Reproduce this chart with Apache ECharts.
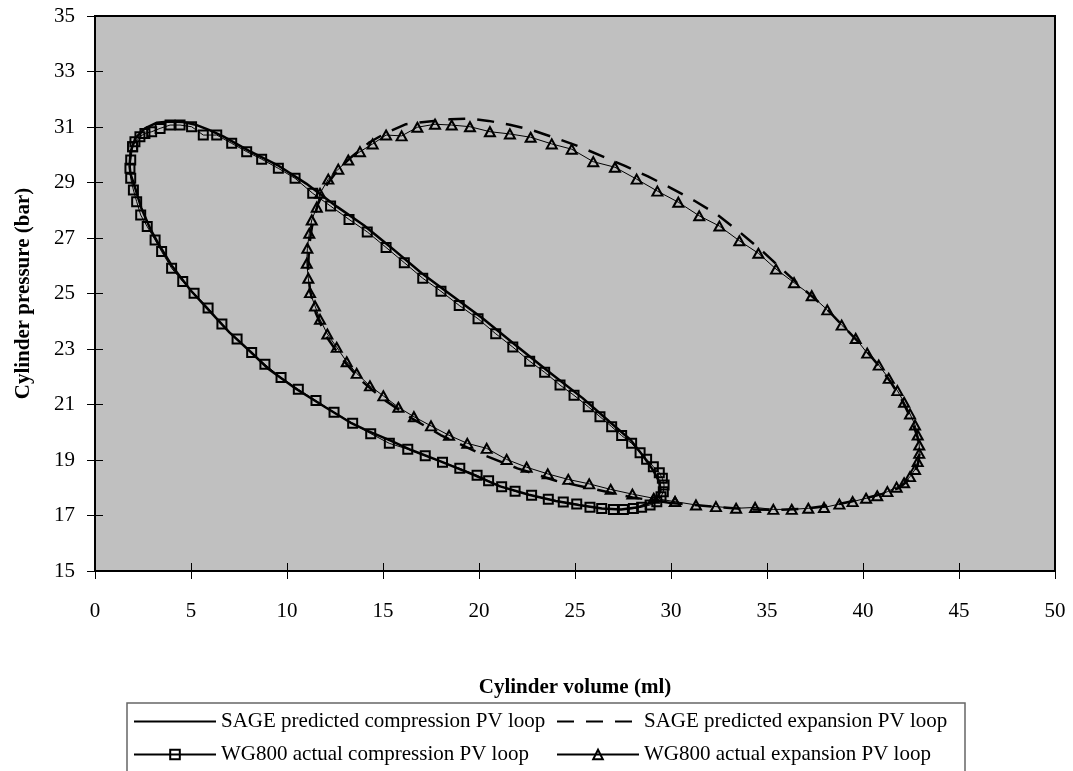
<!DOCTYPE html>
<html>
<head>
<meta charset="utf-8">
<title>PV loops</title>
<script src="https://cdn.jsdelivr.net/npm/echarts@6/dist/echarts.min.js"></script>
<style>
  html, body { margin: 0; padding: 0; background: #fff; }
  #chart { width: 1073px; height: 771px; }
</style>
</head>
<body>
<div id="chart"></div>
<script>
// WG800 measured compression loop (squares)
var compVol = [1.96, 2.08, 2.34, 2.60, 2.95, 3.39, 3.91, 4.43, 5.03, 5.64, 6.34, 7.12, 7.90, 8.68, 9.55, 10.42, 11.34, 12.27,
  13.23, 14.18, 15.16, 16.11, 17.07, 18.02, 18.97, 19.95, 20.87, 21.76, 22.64, 23.42, 24.22, 24.95, 25.69, 26.30, 26.91,
  27.43, 27.95, 28.39, 28.73, 29.08, 29.39, 29.55, 29.64, 29.60, 29.48, 29.26, 28.91, 28.47, 28.04, 27.52, 27.00, 26.39,
  25.78, 25.09, 24.39, 23.61, 22.74, 21.88, 21.18, 20.50, 19.90, 19.00, 18.10, 17.20, 16.29, 15.33, 14.36, 13.42, 12.45,
  11.51, 10.59, 9.69, 8.85, 8.16, 7.40, 6.61, 5.89, 5.16, 4.57, 3.99, 3.47, 3.13, 2.72, 2.38, 2.17, 2.00, 1.86, 1.82, 1.86, 1.96];
var compPres = [30.29, 30.47, 30.65, 30.77, 30.83, 30.95, 31.07, 31.07, 31.01, 30.71, 30.71, 30.41, 30.11, 29.84, 29.51, 29.15, 28.61, 28.15,
  27.67, 27.22, 26.66, 26.11, 25.55, 25.08, 24.57, 24.09, 23.55, 23.07, 22.56, 22.16, 21.70, 21.33, 20.92, 20.56, 20.20,
  19.88, 19.60, 19.26, 19.03, 18.76, 18.54, 18.34, 18.10, 17.86, 17.68, 17.50, 17.38, 17.30, 17.25, 17.22, 17.22, 17.25,
  17.30, 17.41, 17.49, 17.59, 17.73, 17.87, 18.04, 18.25, 18.45, 18.70, 18.92, 19.15, 19.39, 19.60, 19.95, 20.32, 20.72,
  21.14, 21.55, 21.97, 22.45, 22.87, 23.36, 23.90, 24.48, 25.01, 25.43, 25.91, 26.51, 26.93, 27.41, 27.83, 28.31, 28.73, 29.15, 29.51, 29.81, 30.29];

// WG800 measured expansion loop (triangles)
var expVol = [30.21, 29.10, 27.99, 26.86, 25.74, 24.65, 23.58, 22.48, 21.44, 20.40, 19.39, 18.44, 17.50, 16.61, 15.80, 15.02,
  14.32, 13.63, 13.11, 12.59, 12.10, 11.72, 11.46, 11.20, 11.11, 11.03, 11.06, 11.16, 11.29, 11.55, 11.72, 12.15, 12.67,
  13.19, 13.80, 14.46, 15.16, 15.97, 16.79, 17.71, 18.58, 19.53, 20.57, 21.61, 22.69, 23.79, 24.83, 25.95, 27.08, 28.21,
  29.29, 30.38, 31.47, 32.52, 33.56, 34.55, 35.47, 36.41, 37.33, 38.14, 38.89, 39.62, 40.22, 40.82, 41.34, 41.79, 42.14,
  42.45, 42.71, 42.85, 42.93, 42.93, 42.85, 42.71, 42.45, 42.14, 41.75, 41.27, 40.74, 40.16, 39.46, 38.77, 37.97, 37.15,
  36.29, 35.33, 34.38, 33.39, 32.34, 31.30, 30.21];
var expPres = [17.50, 17.62, 17.77, 17.94, 18.14, 18.30, 18.50, 18.74, 19.02, 19.42, 19.60, 19.89, 20.23, 20.56, 20.90, 21.31,
  21.67, 22.12, 22.54, 23.06, 23.54, 24.07, 24.55, 25.03, 25.55, 26.09, 26.63, 27.17, 27.65, 28.11, 28.61, 29.12, 29.48,
  29.81, 30.11, 30.39, 30.71, 30.68, 30.99, 31.10, 31.07, 31.01, 30.83, 30.75, 30.63, 30.39, 30.20, 29.75, 29.55, 29.12,
  28.69, 28.29, 27.80, 27.43, 26.90, 26.45, 25.88, 25.39, 24.92, 24.41, 23.86, 23.38, 22.85, 22.42, 21.94, 21.50, 21.08,
  20.66, 20.26, 19.90, 19.54, 19.24, 18.94, 18.66, 18.40, 18.18, 18.02, 17.86, 17.71, 17.62, 17.50, 17.41, 17.29, 17.26,
  17.22, 17.22, 17.29, 17.26, 17.32, 17.38, 17.50];

// SAGE predicted compression loop
var sageCompVol = [1.80, 1.85, 2.10, 2.60, 3.20, 3.90, 4.60, 5.30, 6.00, 6.70, 8.00, 9.50, 11.00, 12.60, 14.00, 15.40, 17.00,
  18.60, 20.20, 21.80, 23.60, 25.40, 26.80, 27.90, 28.60, 29.10, 29.40, 29.45, 29.30, 28.90, 28.30, 27.40, 26.40, 25.20,
  24.00, 22.60, 21.10, 19.60, 18.00, 16.50, 15.40, 14.20, 13.30, 12.00, 10.50, 9.00, 8.10, 7.00, 6.00, 5.00, 4.00, 3.30,
  2.90, 2.40, 2.05, 1.85, 1.80];
var sageCompPres = [29.60, 30.10, 30.60, 30.95, 31.15, 31.20, 31.18, 31.07, 30.88, 30.65, 30.15, 29.63, 28.96, 28.13, 27.46, 26.67, 25.74,
  24.92, 24.10, 23.20, 22.20, 21.23, 20.38, 19.72, 19.10, 18.60, 18.20, 17.90, 17.65, 17.45, 17.30, 17.22, 17.25, 17.38,
  17.52, 17.75, 18.05, 18.50, 18.95, 19.35, 19.70, 20.05, 20.35, 20.90, 21.55, 22.30, 22.90, 23.60, 24.35, 25.10, 26.00, 26.80,
  27.30, 28.10, 28.90, 29.30, 29.60];

// SAGE predicted expansion loop
var sageExpVol = [30.00, 28.00, 26.00, 24.00, 22.00, 20.00, 18.00, 16.50, 15.00, 13.80, 12.80, 12.00, 11.50, 11.20, 11.10, 11.15,
  11.30, 11.60, 12.10, 12.70, 13.40, 14.30, 15.20, 16.20, 17.40, 18.50, 19.50, 20.50, 21.60, 22.80, 24.00, 25.20, 26.40,
  27.60, 28.80, 30.00, 31.20, 32.40, 33.60, 34.80, 35.90, 37.00, 38.10, 39.00, 39.90, 40.70, 41.40, 42.00, 42.50, 42.85,
  42.95, 42.85, 42.50, 41.90, 41.00, 40.00, 38.50, 37.00, 35.50, 34.00, 32.50, 31.20, 30.00];
var sageExpPres = [17.45, 17.65, 17.95, 18.25, 18.70, 19.25, 19.90, 20.50, 21.20, 21.90, 22.70, 23.50, 24.30, 25.10, 25.90, 26.70,
  27.40, 28.20, 28.95, 29.50, 29.95, 30.45, 30.80, 31.10, 31.20, 31.28, 31.30, 31.22, 31.08, 30.88, 30.60, 30.30, 29.95,
  29.60, 29.22, 28.80, 28.35, 27.85, 27.20, 26.50, 25.80, 25.10, 24.45, 23.80, 23.15, 22.50, 21.85, 21.20, 20.50, 19.80,
  19.25, 18.80, 18.35, 18.00, 17.78, 17.60, 17.38, 17.25, 17.20, 17.22, 17.30, 17.38, 17.45];

var seriesNames = ['SAGE predicted compression PV loop', 'SAGE predicted expansion PV loop',
  'WG800 actual compression PV loop', 'WG800 actual expansion PV loop'];

function pairs(xs, ys) {
  return xs.map(function(x, i) { return [x, ys[i]]; });
}

var font = '"Liberation Serif", "Times New Roman", serif';
var chart = echarts.init(document.getElementById('chart'));

var legendText = { color: '#000', fontSize: 21, fontFamily: font };

var option = {
  animation: false,
  backgroundColor: '#fff',
  textStyle: { fontFamily: font },
  grid: {
    left: 95,
    right: 18,
    top: 16,
    bottom: 200,
    show: true,
    backgroundColor: '#C0C0C0',
    borderColor: '#000',
    borderWidth: 2
  },
  legend: [{
    orient: 'vertical',
    left: 133,
    top: 711,
    itemWidth: 82,
    itemHeight: 12,
    itemGap: 12,
    padding: 0,
    textStyle: legendText,
    data: [seriesNames[0], seriesNames[2]]
  }, {
    orient: 'vertical',
    left: 556,
    top: 711,
    itemWidth: 82,
    itemHeight: 12,
    itemGap: 12,
    padding: 0,
    textStyle: legendText,
    data: [seriesNames[1], seriesNames[3]]
  }],
  graphic: [{
    type: 'rect',
    shape: { x: 127, y: 703, width: 838, height: 80 },
    style: { fill: 'none', stroke: '#666', lineWidth: 1.5 },
    silent: true
  }],
  xAxis: [{
    type: 'value',
    min: 0,
    max: 50,
    interval: 5,
    name: 'Cylinder volume (ml)',
    nameLocation: 'middle',
    nameGap: 106,
    nameTextStyle: { color: '#000', fontSize: 21, fontWeight: 'bold', fontFamily: font },
    axisLine: { lineStyle: { color: '#000', width: 2 } },
    axisTick: { length: 8, lineStyle: { color: '#000' } },
    axisLabel: { color: '#000', fontSize: 21, fontFamily: font, margin: 30 },
    splitLine: { show: false }
  }, {
    // inner half of the crossing ticks
    type: 'value',
    position: 'bottom',
    min: 0,
    max: 50,
    interval: 5,
    axisLine: { show: false },
    axisTick: { inside: true, length: 8, lineStyle: { color: '#000' } },
    axisLabel: { show: false },
    splitLine: { show: false }
  }],
  yAxis: [{
    type: 'value',
    min: 15,
    max: 35,
    interval: 2,
    name: 'Cylinder pressure (bar)',
    nameLocation: 'middle',
    nameGap: 61,
    nameTextStyle: { color: '#000', fontSize: 21, fontWeight: 'bold', fontFamily: font },
    axisLine: { lineStyle: { color: '#000', width: 2 } },
    axisTick: { length: 8, lineStyle: { color: '#000' } },
    axisLabel: { color: '#000', fontSize: 21, fontFamily: font, margin: 20 },
    splitLine: { show: false }
  }, {
    type: 'value',
    position: 'left',
    min: 15,
    max: 35,
    interval: 2,
    axisLine: { show: false },
    axisTick: { inside: true, length: 8, lineStyle: { color: '#000' } },
    axisLabel: { show: false },
    splitLine: { show: false }
  }],
  series: [{
    name: seriesNames[0],
    type: 'line',
    symbol: 'none',
    z: 3,
    lineStyle: { color: '#000', width: 2.5 },
    itemStyle: { color: 'rgba(0,0,0,0)' },
    data: pairs(sageCompVol, sageCompPres)
  }, {
    name: seriesNames[1],
    type: 'line',
    symbol: 'none',
    z: 3,
    lineStyle: { color: '#000', width: 2.5, type: [17, 12] },
    itemStyle: { color: 'rgba(0,0,0,0)' },
    data: pairs(sageExpVol, sageExpPres)
  }, {
    name: seriesNames[2],
    type: 'line',
    symbol: 'rect',
    symbolSize: 9,
    z: 4,
    lineStyle: { color: '#000', width: 1 },
    itemStyle: { color: 'rgba(0,0,0,0)', borderColor: '#000', borderWidth: 2 },
    data: pairs(compVol, compPres)
  }, {
    name: seriesNames[3],
    type: 'line',
    symbol: 'triangle',
    symbolSize: [10, 9],
    z: 4,
    lineStyle: { color: '#000', width: 1 },
    itemStyle: { color: 'rgba(0,0,0,0)', borderColor: '#000', borderWidth: 2 },
    data: pairs(expVol, expPres)
  }]
};

chart.setOption(option);
</script>
</body>
</html>
